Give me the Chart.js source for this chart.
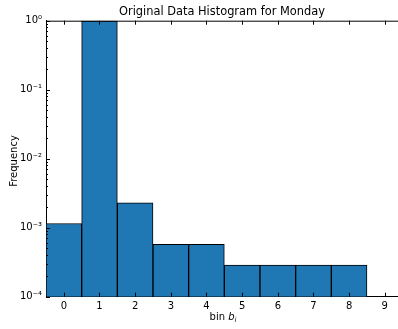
<!DOCTYPE html>
<html>
<head>
<meta charset="utf-8">
<script src="https://cdn.jsdelivr.net/npm/chart.js@4/dist/chart.umd.min.js"></script>
<style>
  html, body { margin: 0; padding: 0; background: #fff; }
  #wrap { width: 398px; height: 329px; }
</style>
</head>
<body>
<div id="wrap"><canvas id="hist"></canvas></div>
<script>
// bins and relative frequencies
const bins = [0, 1, 2, 3, 4, 5, 6, 7, 8];
const freq = [1.15e-3, 0.994, 2.3e-3, 5.75e-4, 5.75e-4, 2.88e-4, 2.88e-4, 2.88e-4, 2.88e-4];
const xTicks = [0, 1, 2, 3, 4, 5, 6, 7, 8, 9];
const yMajor = [1e-4, 1e-3, 1e-2, 1e-1, 1];
const yLabels = ['10\u207B\u2074', '10\u207B\u00B3', '10\u207B\u00B2', '10\u207B\u00B9', '10\u2070'];
const title = 'Original Data Histogram for Monday';

const FONT = 'DejaVu Sans';

// minor ticks 2..9 in every decade
const yMinor = [];
yMajor.slice(0, -1).forEach(d => {
    for (let k = 2; k <= 9; k++) yMinor.push(d * k);
});

// inward ticks, top frame line, title and the two axis labels
const frameTicks = {
    id: 'frameTicks',
    afterDraw(chart) {
        const { ctx, chartArea: a, scales: { x, y } } = chart;
        const cx = (a.left + a.right) / 2;
        ctx.save();
        ctx.strokeStyle = '#000';
        ctx.lineWidth = 1;
        ctx.beginPath();
        ctx.moveTo(a.left, a.top + 0.5);
        ctx.lineTo(a.right, a.top + 0.5);
        ctx.stroke();
        ctx.beginPath();
        xTicks.forEach(v => {
            const px = Math.round(x.getPixelForValue(v)) + 0.5;
            ctx.moveTo(px, a.bottom); ctx.lineTo(px, a.bottom - 4);
            ctx.moveTo(px, a.top); ctx.lineTo(px, a.top + 4);
        });
        yMajor.forEach(v => {
            const py = Math.round(y.getPixelForValue(v)) + 0.5;
            ctx.moveTo(a.left, py); ctx.lineTo(a.left + 4, py);
        });
        yMinor.forEach(v => {
            const py = Math.round(y.getPixelForValue(v)) + 0.5;
            ctx.moveTo(a.left, py); ctx.lineTo(a.left + 2, py);
        });
        ctx.stroke();

        ctx.fillStyle = '#000';
        ctx.textBaseline = 'middle';

        // title over the axes
        ctx.textAlign = 'center';
        ctx.font = '11.4px "' + FONT + '"';
        ctx.fillText(title, cx, 12);

        // x label: bin b_i
        ctx.font = '10px "' + FONT + '"';
        const w1 = ctx.measureText('bin ').width;
        ctx.font = 'italic 10px "' + FONT + '"';
        const w2 = ctx.measureText('b').width;
        ctx.font = 'italic 7px "' + FONT + '"';
        const w3 = ctx.measureText('i').width;
        const lx = cx - (w1 + w2 + w3) / 2 + 1;
        const ly = 317;
        ctx.textAlign = 'left';
        ctx.font = '10px "' + FONT + '"';
        ctx.fillText('bin ', lx, ly);
        ctx.font = 'italic 10px "' + FONT + '"';
        ctx.fillText('b', lx + w1, ly);
        ctx.font = 'italic 7px "' + FONT + '"';
        ctx.fillText('i', lx + w1 + w2, ly + 3);

        // y label
        ctx.translate(14, 161);
        ctx.rotate(-Math.PI / 2);
        ctx.textAlign = 'center';
        ctx.font = '10px "' + FONT + '"';
        ctx.fillText('Frequency', 0, 0);
        ctx.restore();
    }
};

new Chart(document.getElementById('hist'), {
    type: 'bar',
    data: {
        datasets: [{
            data: bins.map((b, i) => ({ x: b, y: freq[i] })),
            backgroundColor: '#1f77b4',
            borderColor: '#000',
            borderWidth: 1,
            barPercentage: 1,
            categoryPercentage: 1
        }]
    },
    options: {
        responsive: true,
        maintainAspectRatio: false,
        animation: false,
        layout: { padding: { top: 20.7, left: 0, right: 0, bottom: 0 } },
        plugins: {
            legend: { display: false },
            tooltip: { enabled: false },
            title: { display: false }
        },
        scales: {
            x: {
                type: 'linear',
                offset: false,
                min: -0.5,
                max: 9.37,
                afterBuildTicks: s => { s.ticks = xTicks.map(v => ({ value: v })); },
                afterFit: s => { s.height = 32.3; },
                grid: { display: false, drawTicks: false, offset: false },
                border: { display: true, color: '#000', width: 1 },
                ticks: {
                    color: '#000',
                    font: { family: FONT, size: 10 },
                    padding: 4,
                    maxRotation: 0,
                    callback: v => String(v)
                }
            },
            y: {
                type: 'logarithmic',
                min: 1e-4,
                max: 1,
                afterBuildTicks: s => { s.ticks = yMajor.map(v => ({ value: v })); },
                afterFit: s => { s.width = 46; },
                grid: { display: false, drawTicks: false },
                border: { display: true, color: '#000', width: 1 },
                ticks: {
                    color: '#000',
                    font: { family: FONT, size: 10 },
                    padding: 4,
                    callback: (v, i) => yLabels[i]
                }
            }
        }
    },
    plugins: [frameTicks]
});
</script>
</body>
</html>
